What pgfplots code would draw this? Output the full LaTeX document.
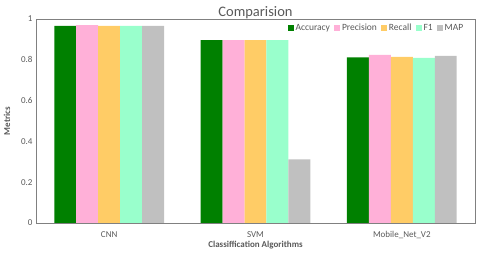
\documentclass[border=0pt]{standalone}
\usepackage{pgfplots}
\pgfplotsset{compat=1.18}
\usepackage{fontspec}
\setmainfont{Carlito}
\definecolor{cAcc}{HTML}{008000}
\definecolor{cPre}{HTML}{FFB0D8}
\definecolor{cRec}{HTML}{FFCC66}
\definecolor{cF1}{HTML}{99FFCC}
\definecolor{cMap}{HTML}{C0C0C0}
\definecolor{axgray}{HTML}{808080}
\definecolor{txt}{HTML}{595959}
\begin{document}
\begin{tikzpicture}[x=1pt,y=1pt]
\useasboundingbox (0,0) rectangle (480,254);
\begin{axis}[
  at={(36pt,31pt)}, anchor=south west,
  scale only axis, width=439pt, height=204pt,
  bar width=0.15, ybar=0pt,
  xmin=-0.5, xmax=2.5, ymin=0, ymax=1,
  xtick=data, xticklabels={CNN,SVM,Mobile\_Net\_V2},
  ytick={0,0.2,0.4,0.6,0.8,1},
  yticklabels={0,0.2,0.4,0.6,0.8,1},
  major tick length=0pt,
  axis line style={axgray},
  ticklabel style={font=\fontsize{9}{10}\selectfont, text=txt},
  xticklabel style={yshift=-5pt},
  xlabel={\textbf{Classiffication Algorithms}},
  ylabel={\textbf{Metrics}},
  label style={font=\fontsize{9}{10}\selectfont, text=txt},
  xlabel style={yshift=5pt},
  ylabel style={yshift=4pt},
  title={Comparision},
  title style={font=\fontsize{14.5}{16}\selectfont, text=txt, yshift=-9pt},
  legend style={at={(rel axis cs:0.985,0.995)}, anchor=north east, draw=none, fill=none,
    legend columns=-1, font=\fontsize{9.5}{11}\selectfont, text=txt,
    /tikz/every even column/.append style={column sep=2pt}},
  legend image code/.code={\fill[#1] (0pt,-3pt) rectangle (6pt,3pt);},
  every axis plot/.append style={draw=none},
]
\addplot[fill=cAcc] coordinates {(0,0.966) (1,0.897) (2,0.812)};
\addplot[fill=cPre] coordinates {(0,0.970) (1,0.897) (2,0.824)};
\addplot[fill=cRec] coordinates {(0,0.966) (1,0.897) (2,0.814)};
\addplot[fill=cF1] coordinates {(0,0.966) (1,0.897) (2,0.810)};
\addplot[fill=cMap] coordinates {(0,0.966) (1,0.312) (2,0.819)};
\legend{Accuracy,Precision,Recall,F1,MAP}
\end{axis}
\end{tikzpicture}
\end{document}
